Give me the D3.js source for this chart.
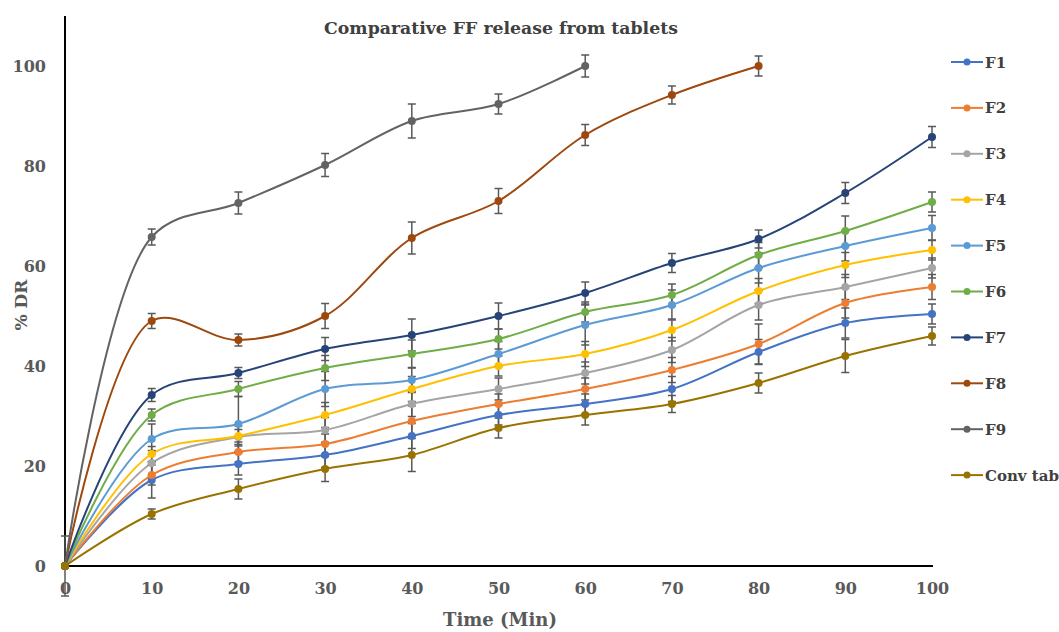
<!DOCTYPE html>
<html><head><meta charset="utf-8">
<script src="https://cdn.jsdelivr.net/npm/d3@7"></script>
<style>body{margin:0;background:#fff;} svg{display:block;}</style>
</head><body>
<svg id="c" width="1059" height="632"></svg>
<script>
const times = [0,10,20,30,40,50,60,70,80,90,100];
const seriesNames = ["F1","F2","F3","F4","F5","F6","F7","F8","F9","Conv tab"];
const colors = ["#4472C4","#ED7D31","#A5A5A5","#FFC000","#5B9BD5","#70AD47","#264478","#9E480E","#636363","#997300"];
const F1 = [0,17.2,20.4,22.2,26,30.2,32.4,35.4,42.8,48.6,50.4];
const F2 = [0,18.2,22.8,24.4,29,32.4,35.4,39.2,44.4,52.6,55.8];
const F3 = [0,20.6,25.8,27.2,32.4,35.4,38.6,43.2,52.2,55.8,59.6];
const F4 = [0,22.4,26,30.2,35.4,40,42.4,47.2,55,60.2,63.2];
const F5 = [0,25.4,28.4,35.4,37.2,42.4,48.2,52.2,59.6,64,67.6];
const F6 = [0,30.2,35.4,39.6,42.4,45.4,50.8,54.2,62.2,67,72.8];
const F7 = [0,34.2,38.6,43.4,46.2,50,54.6,60.6,65.4,74.6,85.8];
const F8 = [0,49,45.2,50,65.6,73,86.2,94.2,100];
const F9 = [0,65.8,72.6,80.2,89,92.4,100];
const Conv = [0,10.4,15.4,19.4,22.2,27.6,30.2,32.4,36.6,42,46];
const F1err = [0,3.6,2.2,2.5,2.5,2,2,2.5,2.5,3,2];
const F2err = [0,2,2,2,3,2,2.2,2.5,4,3,2.5];
const F3err = [0,2.5,1.5,2.5,2.5,2.2,2.2,2.5,3,2.5,2];
const F4err = [0,1.5,2,2.5,2.5,2,2.5,2.2,2.5,2.5,2];
const F5err = [6,3,5.5,3.5,2.5,2.5,4,3,3,3,2.5];
const F6err = [0,1.2,1.5,2.5,2.8,2,2,2.2,2.5,3,2];
const F7err = [0,1.3,1.1,2.3,3.2,2.6,2.2,1.9,1.8,2.1,2.1];
const F8err = [0,1.5,1.2,2.5,3.2,2.5,2.1,1.8,2];
const F9err = [0,1.6,2.2,2.3,3.4,2,2.2];
const Converr = [0,1,2,2.5,3.3,2,2,1.7,2,3.3,1.8];
const xTicks = [0,10,20,30,40,50,60,70,80,90,100];
const yTicks = [0,20,40,60,80,100];

const values = [F1,F2,F3,F4,F5,F6,F7,F8,F9,Conv];
const errs = [F1err,F2err,F3err,F4err,F5err,F6err,F7err,F8err,F9err,Converr];

const svg = d3.select("#c");
const x = d3.scaleLinear().domain([0,100]).range([65,932]);
const y = d3.scaleLinear().domain([0,110]).range([566,16]);
const FONT = "'DejaVu Serif', serif";

// title
svg.append("text").attr("x",501).attr("y",34).attr("text-anchor","middle")
  .attr("font-family",FONT).attr("font-weight","bold").attr("font-size",17.3)
  .attr("fill","#404040").text("Comparative FF release from tablets");

// y tick labels
svg.append("g").attr("transform","translate(65,0)")
  .call(d3.axisLeft(y).tickValues(yTicks).tickSize(0).tickPadding(19).tickFormat(d3.format("d")))
  .call(g=>g.select(".domain").remove())
  .selectAll("text").attr("font-family",FONT).attr("font-weight","bold").attr("font-size",16).attr("fill","#595959");

// x tick labels
svg.append("g").attr("transform","translate(0,566)")
  .call(d3.axisBottom(x).tickValues(xTicks).tickSize(0).tickPadding(17).tickFormat(d3.format("d")))
  .call(g=>g.select(".domain").remove())
  .selectAll("text").attr("font-family",FONT).attr("font-weight","bold").attr("font-size",16).attr("fill","#595959");

// axis lines
svg.append("line").attr("x1",x(0)).attr("x2",x(0)).attr("y1",y(110)).attr("y2",y(0)).attr("stroke","#000").attr("stroke-width",2);
svg.append("line").attr("x1",x(0)).attr("x2",x(100)+1).attr("y1",y(0)).attr("y2",y(0)).attr("stroke","#000").attr("stroke-width",2);

// axis titles
svg.append("text").attr("transform","translate(27,305) rotate(-90)").attr("text-anchor","middle")
  .attr("font-family",FONT).attr("font-weight","bold").attr("font-size",17).attr("fill","#595959").text("% DR");
svg.append("text").attr("x",500).attr("y",626).attr("text-anchor","middle")
  .attr("font-family",FONT).attr("font-weight","bold").attr("font-size",18).attr("fill","#595959").text("Time (Min)");

const line = d3.line().x(d=>x(d[0])).y(d=>y(d[1])).curve(d3.curveCatmullRom.alpha(0.5));

const plot = svg.append("g");
values.forEach((vals,i)=>{
  const pts = vals.map((v,j)=>[times[j],v]);
  plot.append("path").datum(pts).attr("d",line).attr("fill","none")
    .attr("stroke",colors[i]).attr("stroke-width",2);
});
// error bars
values.forEach((vals,i)=>{
  const g = plot.append("g").attr("stroke","#595959").attr("stroke-width",1.5);
  vals.forEach((v,j)=>{
    const e = errs[i][j];
    if(!e) return;
    const cx = x(times[j]);
    g.append("line").attr("x1",cx).attr("x2",cx).attr("y1",y(v-e)).attr("y2",y(v+e));
    g.append("line").attr("x1",cx-4).attr("x2",cx+4).attr("y1",y(v-e)).attr("y2",y(v-e));
    g.append("line").attr("x1",cx-4).attr("x2",cx+4).attr("y1",y(v+e)).attr("y2",y(v+e));
  });
});
// markers
values.forEach((vals,i)=>{
  plot.append("g").selectAll("circle").data(vals).join("circle")
    .attr("cx",(d,j)=>x(times[j])).attr("cy",d=>y(d)).attr("r",4).attr("fill",colors[i]);
});

// legend
const leg = svg.append("g");
seriesNames.forEach((n,i)=>{
  const ly = 62 + i*45.9;
  leg.append("line").attr("x1",951).attr("x2",983).attr("y1",ly).attr("y2",ly).attr("stroke",colors[i]).attr("stroke-width",2);
  leg.append("circle").attr("cx",967).attr("cy",ly).attr("r",3.5).attr("fill",colors[i]);
  leg.append("text").attr("x",985).attr("y",ly+5.5).attr("font-family",FONT).attr("font-weight","bold")
    .attr("font-size",15).attr("fill","#404040").text(n);
});
</script>
</body></html>
